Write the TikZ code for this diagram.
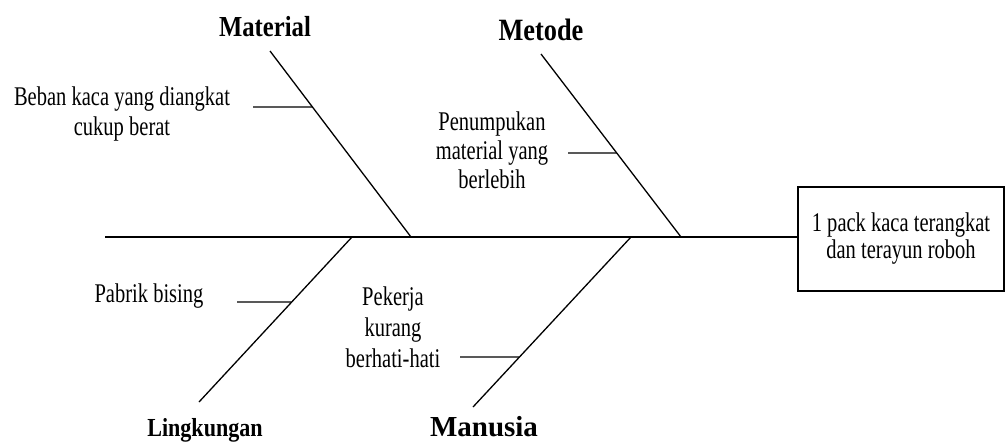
\documentclass[tikz,border=0pt]{standalone}
\usepackage{fontspec}
\setmainfont{Liberation Serif}
\newfontfamily\causefont[FakeStretch=0.76]{Liberation Serif}
\newfontfamily\headfont[FakeStretch=0.85]{Liberation Serif}
\newfontfamily\wideheadfont{Liberation Serif}
\usetikzlibrary{positioning, calc}

\tikzset{
  bone/.style={line width=1.3pt},
  cause/.style={font=\causefont\fontsize{27}{30}\selectfont, align=center, inner sep=0pt},
  head/.style={font=\headfont\bfseries\fontsize{#1}{#1}\selectfont, inner sep=0pt},
  effectbox/.style={draw, line width=1.3pt, minimum width=206pt, minimum height=104pt,
    align=center, inner sep=0pt, font=\causefont\fontsize{27}{27}\selectfont}
}

\begin{document}
\begin{tikzpicture}[x=1pt, y=-1pt]
  \useasboundingbox (0,0) rectangle (1006,445);

  % effect and spine
  \node[effectbox] (effect) at (901,239) {1 pack kaca terangkat\\dan terayun roboh};
  \coordinate (tail) at (105,237);
  \draw[bone] (tail) -- (tail -| effect.west);

  % bones
  \coordinate (mat-top) at (270,51);   \coordinate (mat-foot) at (411,237);
  \coordinate (met-top) at (541,54);   \coordinate (met-foot) at (681,237);
  \coordinate (lin-top) at (352,237);  \coordinate (lin-foot) at (199,402);
  \coordinate (man-top) at (631,237);  \coordinate (man-foot) at (473,407);
  \draw[bone] (mat-top) -- (mat-foot);
  \draw[bone] (met-top) -- (met-foot);
  \draw[bone] (lin-top) -- (lin-foot);
  \draw[bone] (man-top) -- (man-foot);

  % categories
  \node[head=29] (material) at (265,27) {Material};
  \node[head=31] (metode) at (541,30) {Metode};
  \node[head=26] (lingkungan) at (205,430) {Lingkungan};
  \node[font=\wideheadfont\bfseries\fontsize{29}{29}\selectfont, inner sep=0pt] (manusia) at (484,427) {Manusia};

  % causes
  \node[cause] (beban) at (122,114) {Beban kaca yang diangkat\\cukup berat};
  \node[cause, font=\causefont\fontsize{27}{29}\selectfont] (tumpuk) at (492,150) {Penumpukan\\material yang\\berlebih};
  \node[cause] (bising) at (149,296) {Pabrik bising};
  \node[cause, font=\causefont\fontsize{27}{31}\selectfont] (pekerja) at (393,327) {Pekerja\\kurang\\berhati-hati};

  \coordinate (beban-r) at (253,107);
  \coordinate (tumpuk-r) at (568,153);
  \coordinate (bising-r) at (237,302);
  \coordinate (pekerja-r) at (460,357);
  \draw[bone] (beban-r) -- ($(mat-top)!0.301!(mat-foot)$);
  \draw[bone] (tumpuk-r) -- ($(met-top)!0.541!(met-foot)$);
  \draw[bone] (bising-r) -- ($(lin-top)!0.394!(lin-foot)$);
  \draw[bone] (pekerja-r) -- ($(man-top)!0.706!(man-foot)$);
\end{tikzpicture}
\end{document}
